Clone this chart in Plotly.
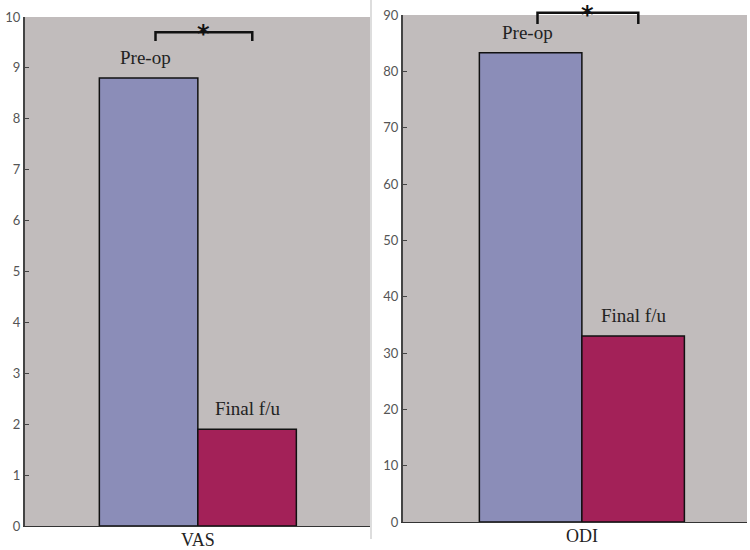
import plotly.graph_objects as go

# ---- data ----
categories = ["VAS", "ODI"]
pre_op = [8.8, 83.3]
final_fu = [1.9, 33.0]
y_max = [10, 90]
y_dtick = [1, 10]
series_names = ["Pre-op", "Final f/u"]
sig_mark = ["*", "*"]
bracket_top = [9.7, 90.4]
bracket_foot = [9.53, 88.4]

# ---- styles ----
c_pre = "#8B8DB8"
c_fin = "#A32158"
bg = "#C1BCBC"
serif = "Liberation Serif, DejaVu Serif, serif"

fig = go.Figure()

panels = [
    dict(x="x", y="y", xd=[25/750, 370/750], yd=[1-526/550, 1-17/550], w=0.2855, c0=0.501),
    dict(x="x2", y="y2", xd=[403/750, 747/750], yd=[1-522/550, 1-15/550], w=0.298, c0=0.520),
]

for i, p in enumerate(panels):
    cat = categories[i]
    w = p["w"]
    fig.add_trace(go.Bar(x=[cat], y=[pre_op[i]], width=w, offset=-w, name=series_names[0],
                         marker=dict(color=c_pre, line=dict(color="#111", width=1.5)),
                         xaxis=p["x"], yaxis=p["y"], showlegend=False))
    fig.add_trace(go.Bar(x=[cat], y=[final_fu[i]], width=w, offset=0, name=series_names[1],
                         marker=dict(color=c_fin, line=dict(color="#111", width=1.5)),
                         xaxis=p["x"], yaxis=p["y"], showlegend=False))
    # bar labels
    fig.add_annotation(x=-w/2 - 0.01, y=pre_op[i], xref=p["x"], yref=p["y"], text=series_names[0],
                       showarrow=False, yanchor="bottom", yshift=8,
                       font=dict(family=serif, size=19, color="#222"))
    fig.add_annotation(x=w/2, y=final_fu[i], xref=p["x"], yref=p["y"], text=series_names[1],
                       showarrow=False, yanchor="bottom", yshift=8,
                       font=dict(family=serif, size=19, color="#222"))
    # significance bracket
    xl = -w/2 + 0.02
    xr = w/2 + 0.015
    yt = bracket_top[i] / y_max[i]
    yf = bracket_foot[i] / y_max[i]
    ydref = p["y"] + " domain"
    fig.add_shape(type="path", xref=p["x"], yref=ydref,
                  path=f"M {xl},{yf} L {xl},{yt} L {xr},{yt} L {xr},{yf}",
                  line=dict(color="#111", width=2.5))
    fig.add_annotation(x=(xl + xr)/2, y=yt, xref=p["x"], yref=ydref, text="<b>" + sig_mark[i] + "</b>",
                       showarrow=False, yanchor="middle", yshift=-2,
                       font=dict(family="DejaVu Sans, sans-serif", size=24, color="#111"))

axis_common_x = dict(showline=True, linecolor="#333", linewidth=1.2, ticks="", showgrid=False,
                     zeroline=False, tickfont=dict(family=serif, size=18, color="#222"),
                     ticklabelstandoff=-3, fixedrange=True, automargin=False)
axis_common_y = dict(showline=True, linecolor="#444", linewidth=2, ticks="inside", ticklen=4,
                     tickcolor="#444", showgrid=False, zeroline=False, automargin=False,
                     tickfont=dict(family="Lato, Liberation Sans, sans-serif", size=13, color="#555"))

fig.update_layout(
    width=750, height=550,
    margin=dict(l=0, r=0, t=0, b=0),
    paper_bgcolor="white",
    plot_bgcolor=bg,
    barmode="overlay",
    showlegend=False,
    xaxis=dict(domain=panels[0]["xd"], anchor="y", range=[-panels[0]["c0"], 1 - panels[0]["c0"]], **axis_common_x),
    yaxis=dict(domain=panels[0]["yd"], anchor="x", range=[0, y_max[0]], dtick=y_dtick[0], **axis_common_y),
    xaxis2=dict(domain=panels[1]["xd"], anchor="y2", range=[-panels[1]["c0"], 1 - panels[1]["c0"]], **axis_common_x),
    yaxis2=dict(domain=panels[1]["yd"], anchor="x2", range=[0, y_max[1]], dtick=y_dtick[1], **axis_common_y),
)

# thin separator line (edge of the second image)
fig.add_shape(type="line", xref="paper", yref="paper", x0=371/750, x1=371/750, y0=0.02, y1=1,
              line=dict(color="#BBBBBB", width=1))

fig.write_html("out.html", config={"displayModeBar": False},
               post_script="document.body.style.margin='0';")
